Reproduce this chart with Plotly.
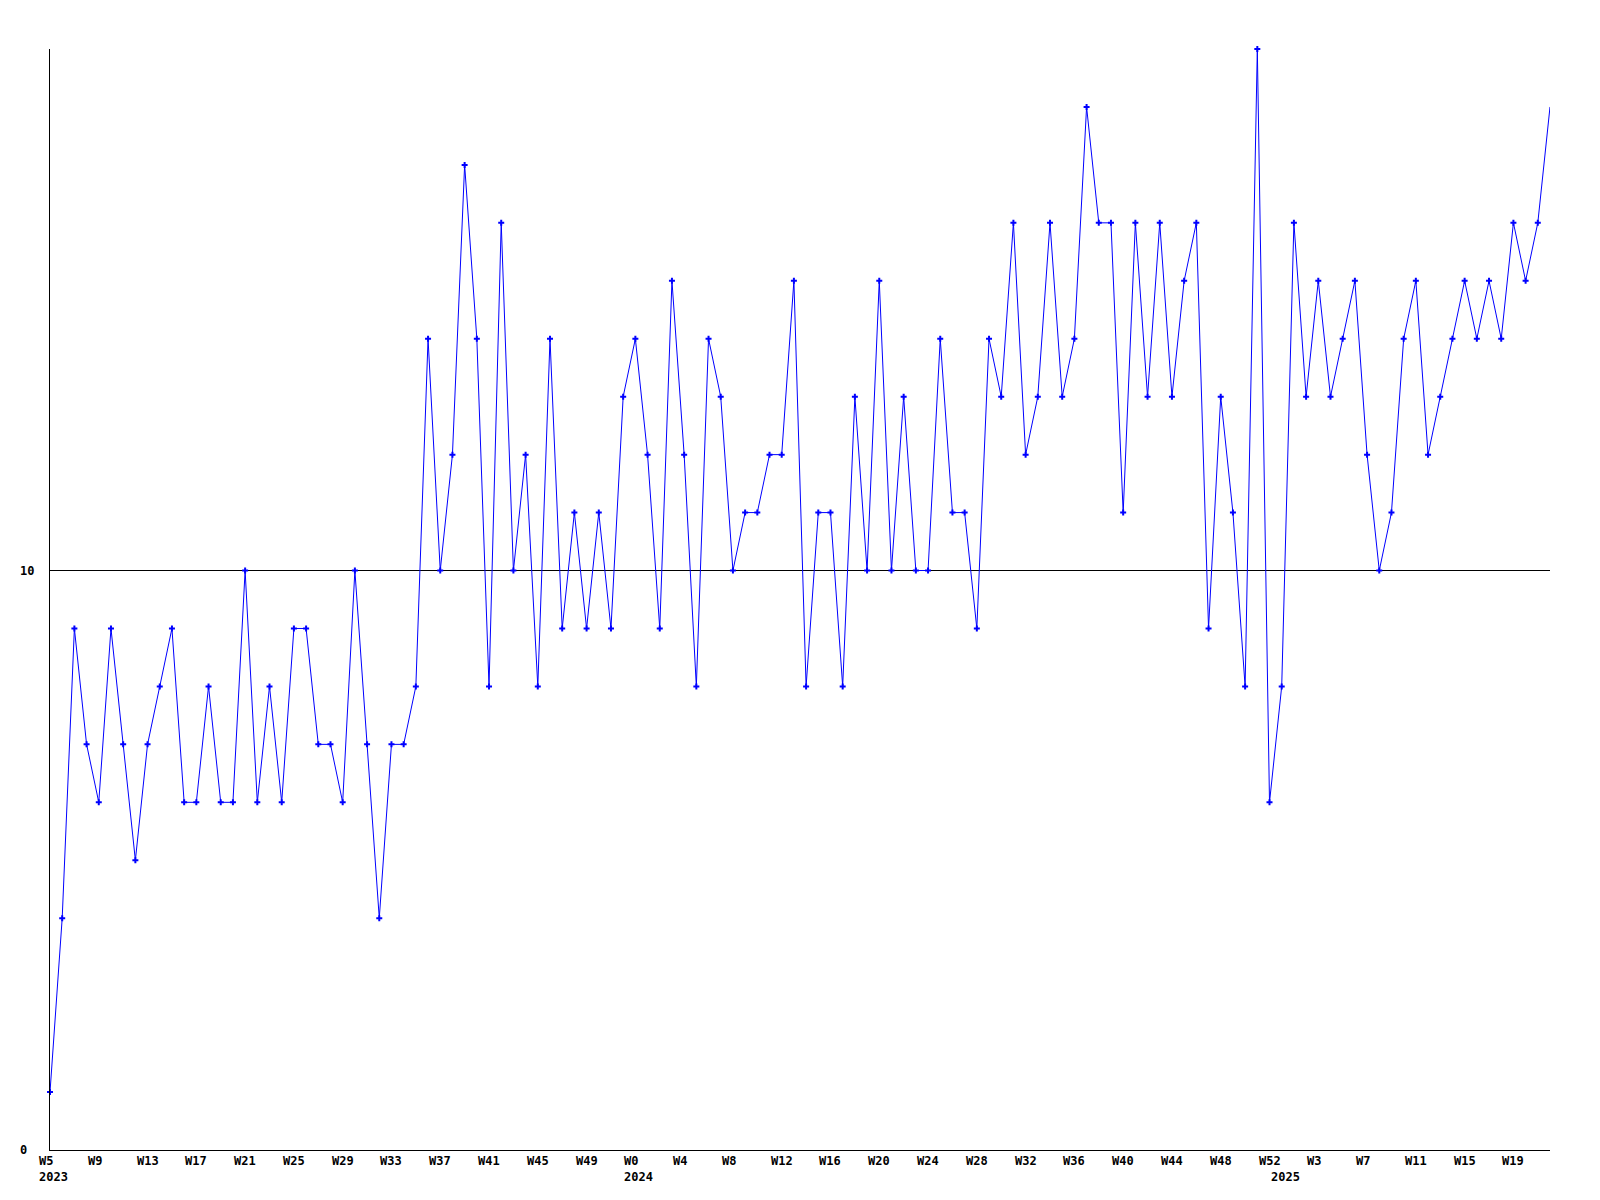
import plotly.graph_objects as go

# Weekly values (W5 2023 .. W22 2025)
values = [
    1, 4, 9, 7, 6, 9, 7, 5, 7, 8,
    9, 6, 6, 8, 6, 6, 10, 6, 8, 6,
    9, 9, 7, 7, 6, 10, 7, 4, 7, 7,
    8, 14, 10, 12, 17, 14, 8, 16, 10, 12,
    8, 14, 9, 11, 9, 11, 9, 13, 14, 12,
    9, 15, 12, 8, 14, 13, 10, 11, 11, 12,
    12, 15, 8, 11, 11, 8, 13, 10, 15, 10,
    13, 10, 10, 14, 11, 11, 9, 14, 13, 16,
    12, 13, 16, 13, 14, 18, 16, 16, 11, 16,
    13, 16, 13, 15, 16, 9, 13, 11, 8, 19,
    6, 8, 16, 13, 15, 13, 14, 15, 12, 10,
    11, 14, 15, 12, 13, 14, 15, 14, 15, 14,
    16, 15, 16, 18,
]

years = [2023, 2024, 2025]
first_week = [5, 0, 0]
last_week = [52, 52, 22]

periods = []
for yr, fw, lw in zip(years, first_week, last_week):
    for w in range(fw, lw + 1):
        periods.append((yr, w))

x_idx = list(range(len(values)))
y_ticks = [0, 10]
label_every = 4

FONT = "DejaVu Sans Mono"
FSIZE = 12

fig = go.Figure()
fig.add_trace(go.Scatter(
    x=x_idx, y=values, mode="lines",
    line=dict(color="#0000FF", width=1),
    cliponaxis=False, hoverinfo="skip",
))
# the final (still open) point is drawn without a marker
fig.add_trace(go.Scatter(
    x=x_idx[:-1], y=values[:-1], mode="markers",
    marker=dict(symbol="cross", size=5, color="#0000FF"),
    cliponaxis=False, hoverinfo="skip",
))

annotations = []
for i in range(0, len(periods), label_every):
    annotations.append(dict(
        x=i, xref="x", y=0, yref="paper", text="<b>W%d</b>" % periods[i][1],
        showarrow=False, xanchor="left", yanchor="middle", xshift=-13, yshift=-11,
        font=dict(family=FONT, size=FSIZE, color="black"),
    ))
seen = set()
for i, (yr, w) in enumerate(periods):
    if yr not in seen:
        seen.add(yr)
        annotations.append(dict(
            x=i, xref="x", y=0, yref="paper", text="<b>%d</b>" % yr,
            showarrow=False, xanchor="left", yanchor="middle", xshift=-13, yshift=-27,
            font=dict(family=FONT, size=FSIZE, color="black"),
        ))
for v in y_ticks:
    annotations.append(dict(
        x=0, xref="paper", y=v, yref="y", text="<b>%d</b>" % v,
        showarrow=False, xanchor="left", yanchor="middle", xshift=-32,
        font=dict(family=FONT, size=FSIZE, color="black"),
    ))

fig.update_layout(
    width=1600, height=1200,
    margin=dict(l=42, r=58, t=41, b=58),
    paper_bgcolor="white", plot_bgcolor="white",
    showlegend=False,
    annotations=annotations,
    xaxis=dict(range=[0, len(values) - 1], showgrid=False, zeroline=False,
               showline=True, linecolor="black", linewidth=1,
               showticklabels=False, ticks=""),
    yaxis=dict(range=[0, 19], tickvals=y_ticks, showticklabels=False,
               showgrid=True, gridcolor="black", gridwidth=1,
               zeroline=False, showline=True, linecolor="black", linewidth=1,
               ticks=""),
)

fig.write_html("out.html")
